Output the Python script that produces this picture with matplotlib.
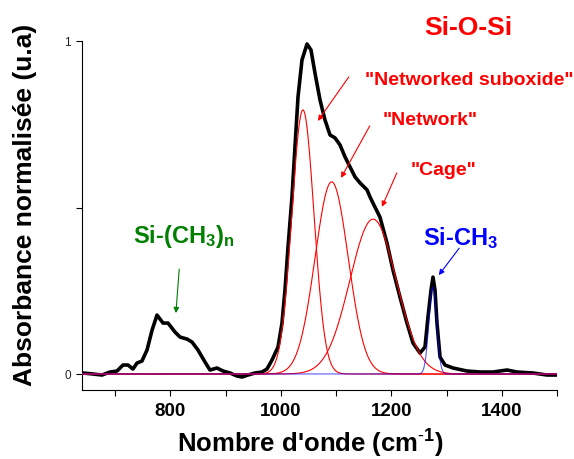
import numpy as np
import matplotlib
matplotlib.use('Agg')
import matplotlib.pyplot as plt

plt.rcParams['font.family'] = ['Liberation Sans', 'DejaVu Sans']
plt.rcParams['mathtext.fontset'] = 'custom'
plt.rcParams['mathtext.rm'] = 'Liberation Sans'
plt.rcParams['mathtext.bf'] = 'Liberation Sans:bold'
plt.rcParams['mathtext.default'] = 'bf'

wavenumber = [641.8, 659.9, 676.2, 690.7, 703.4, 714.2, 723.3, 732.3, 739.6, 748.6,
              757.7, 766.9, 775.8, 786.7, 795.7, 808.4, 817.4, 830.1, 839.2, 850.0,
              862.7, 871.7, 884.4, 895.3, 908.0, 920.6, 929.7, 940.5, 953.2, 965.9,
              974.9, 984.0, 994.9, 1002.1, 1007.5, 1013.0, 1020.2, 1025.6, 1031.1, 1038.3,
              1047.4, 1054.6, 1061.8, 1070.9, 1079.9, 1089.0, 1098.1, 1107.1, 1116.2, 1125.2,
              1134.3, 1143.3, 1156.0, 1161.4, 1166.9, 1179.5, 1192.2, 1203.1, 1215.7, 1228.4,
              1239.3, 1251.9, 1261.0, 1266.4, 1271.9, 1275.5, 1279.1, 1282.7, 1288.2, 1297.2,
              1311.7, 1337.0, 1360.6, 1384.1, 1409.5, 1427.6, 1456.5, 1481.9, 1500.0]
absorbance = [0.003, 0.000, -0.003, 0.006, 0.009, 0.027, 0.027, 0.015, 0.033, 0.039,
              0.072, 0.132, 0.177, 0.153, 0.153, 0.126, 0.111, 0.105, 0.096, 0.072,
              0.036, 0.012, 0.018, 0.009, 0.003, -0.006, -0.009, -0.003, 0.003, 0.006,
              0.015, 0.042, 0.081, 0.153, 0.252, 0.381, 0.532, 0.682, 0.832, 0.943,
              0.991, 0.973, 0.904, 0.823, 0.763, 0.718, 0.709, 0.688, 0.652, 0.622,
              0.592, 0.574, 0.553, 0.532, 0.513, 0.471, 0.393, 0.312, 0.231, 0.153,
              0.093, 0.063, 0.081, 0.171, 0.252, 0.291, 0.252, 0.153, 0.051, 0.027,
              0.018, 0.009, 0.006, 0.006, 0.012, 0.006, 0.003, -0.003, -0.003]

# fitted gaussian components: suboxide, network, cage (Si-O-Si) and Si-CH3
sio_centres = [1040, 1092, 1167]
sio_heights = [0.793, 0.577, 0.465]
sio_sigmas = [20, 30, 42]
sich3_centre = 1275
sich3_height = 0.261
sich3_sigma = 7

def gauss(x, c, h, s):
    return h*np.exp(-(x - c)**2/(2*s**2))

xfit = np.linspace(640, 1500, 1721)

fig = plt.figure(figsize=(5.74, 4.59), dpi=100)
ax = fig.add_axes([82/574, 69/459, 475/574, 349/459])

ax.plot(wavenumber, absorbance, color='black', lw=2.6, solid_joinstyle='round', zorder=2)
for c, h, s in zip(sio_centres, sio_heights, sio_sigmas):
    ax.plot(xfit, gauss(xfit, c, h, s), color='red', lw=0.8, zorder=3)
ax.plot(xfit, gauss(xfit, sich3_centre, sich3_height, sich3_sigma), color='blue', lw=0.8,
        alpha=0.65, zorder=4)

ax.set_xlim(640, 1500)
ax.set_ylim(-0.048, 1.0)
ax.spines['top'].set_visible(False)
ax.spines['right'].set_visible(False)
ax.spines['left'].set_linewidth(0.8)
ax.spines['bottom'].set_linewidth(0.8)

ax.set_xticks([800, 1000, 1200, 1400])
ax.set_xticks([700, 900, 1100, 1300, 1500], minor=True)
ax.set_yticks([0, 1])
ax.set_yticks([0.5], minor=True)
ax.tick_params(which='both', direction='out', length=4, width=0.8)
ax.tick_params(axis='x', labelsize=13.5, pad=5)
ax.tick_params(axis='y', labelsize=8.5, pad=4, labelcolor='#222222')
for lab in ax.get_xticklabels():
    lab.set_fontweight('bold')

ax.set_xlabel(r"Nombre d'onde (cm$^{\text{-}1}$)", fontsize=18.5, fontweight='bold')
ax.xaxis.set_label_coords(0.48, -0.108)
ax.set_ylabel('Absorbance normalisée (u.a)', fontsize=19, fontweight='bold', va='center')
ax.yaxis.set_label_coords(-0.12, 0.53)

ax.text(1339, 1.018, 'Si-O-Si', color='red', fontsize=19, fontweight='bold',
        ha='center', va='baseline')
ax.text(1342, 0.868, '"Networked suboxide"', color='red', fontsize=14, fontweight='bold',
        ha='center', va='baseline')
ax.text(1271, 0.748, '"Network"', color='red', fontsize=14, fontweight='bold',
        ha='center', va='baseline')
ax.text(1294, 0.598, '"Cage"', color='red', fontsize=14, fontweight='bold',
        ha='center', va='baseline')
ax.text(1257, 0.387, 'Si-CH$_3$', color='blue', fontsize=17, fontweight='bold',
        ha='left', va='baseline')
ax.text(732, 0.393, 'Si-(CH$_3$)$_n$', color='#008000', fontsize=17, fontweight='bold',
        ha='left', va='baseline')

arrows = [((1067, 0.760), (1123, 0.892), 'red'),
          ((1109, 0.589), (1161, 0.745), 'red'),
          ((1183, 0.502), (1210, 0.604), 'red'),
          ((1286, 0.297), (1323, 0.378), 'blue'),
          ((810, 0.183), (816, 0.315), '#008000')]
for head, tail, col in arrows:
    ax.annotate('', xy=head, xytext=tail,
                arrowprops=dict(arrowstyle='-|>', color=col, lw=0.8, mutation_scale=8,
                                shrinkA=0, shrinkB=0))

fig.savefig('out.png', dpi=100)
